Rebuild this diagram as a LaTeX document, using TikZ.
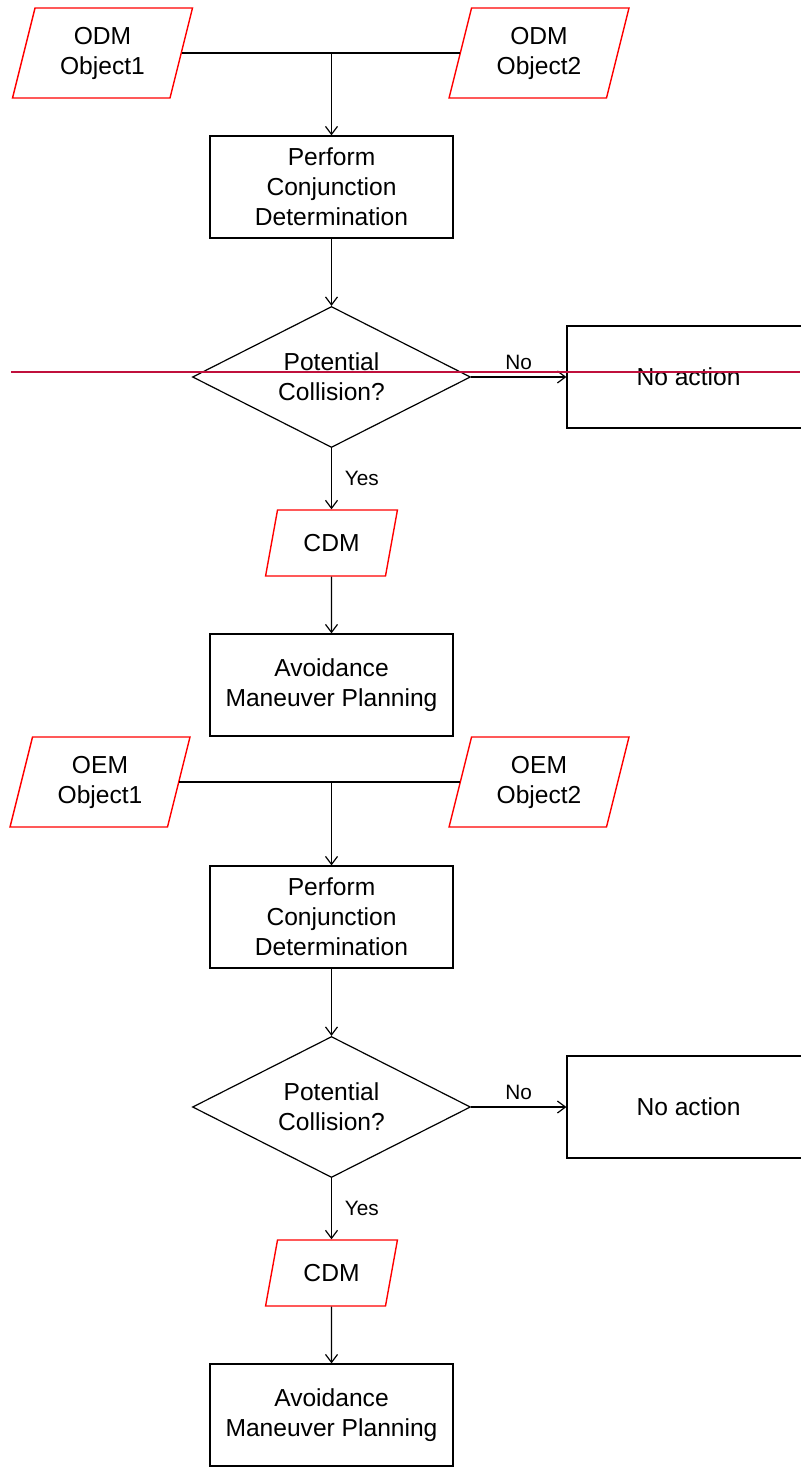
\documentclass[tikz,border=0pt]{standalone}
\usepackage{fontspec}
\setmainfont{Liberation Sans}
\usetikzlibrary{arrows.meta, shapes.geometric, positioning}

\definecolor{crossline}{RGB}{192,16,60}

\begin{document}
\begin{tikzpicture}[
        x=0.5pt, y=-0.5pt,
        node distance=1cm,
        main/.style={rectangle, draw, line width=0.6pt, minimum width=121.5pt, minimum height=51pt, align=center, font=\fontsize{12.3}{15}\selectfont},
        io/.style={trapezium, trapezium left angle=76, trapezium right angle=104, trapezium stretches=true, draw=red, line width=0.7pt, minimum width=90.5pt, minimum height=45pt, align=center, font=\fontsize{12.3}{15}\selectfont},
        small io/.style={io, minimum width=66pt, minimum height=33pt},
        decision/.style={diamond, draw, line width=0.6pt, aspect=2, minimum width=139pt, minimum height=70.5pt, align=center, font=\fontsize{12.3}{15}\selectfont},
        lbl/.style={font=\fontsize{10.4}{12}\selectfont},
        ->, >={Straight Barb[length=4pt, width=6pt]}, line width=0.6pt
    ]
    \useasboundingbox (0,0) rectangle (800,1471);

    % ODM run
    \node[main] (perf1) at (331.5,187) {Perform\\Conjunction\\Determination};
    \node[io] (odm1) at (102.5,53) {ODM\\Object1};
    \node[io] (odm2) at (539,53) {ODM\\Object2};
    \node[decision, node distance=95pt, below of=perf1] (dec1) {Potential\\Collision?};
    \node[main, node distance=178.5pt, right of=dec1] (none1) {No action};
    \node[small io, node distance=83pt, below of=dec1] (cdm1) {CDM};
    \node[main, node distance=71pt, below of=cdm1] (avoid1) {Avoidance\\Maneuver Planning};

    \coordinate (j1) at (perf1.north |- odm1.right side);
    \draw[-] (odm1.right side) -- (odm2.left side);
    \draw[->] (j1) -- (perf1);
    \draw[->] (perf1) -- (dec1);
    \draw[->] (dec1) -- node[lbl, above] {No} (none1);
    \draw[->] (dec1) -- node[lbl, right=3pt] {Yes} (cdm1);
    \draw[->] (cdm1) -- (avoid1);

    % line across the first run
    \draw[-, crossline, line width=0.75pt] (11,372) -- (800,372);

    % OEM run
    \node[main] (perf2) at (331.5,917) {Perform\\Conjunction\\Determination};
    \node[io] (oem1) at (100,782) {OEM\\Object1};
    \node[io] (oem2) at (539,782) {OEM\\Object2};
    \node[decision, node distance=95pt, below of=perf2] (dec2) {Potential\\Collision?};
    \node[main, node distance=178.5pt, right of=dec2] (none2) {No action};
    \node[small io, node distance=83pt, below of=dec2] (cdm2) {CDM};
    \node[main, node distance=71pt, below of=cdm2] (avoid2) {Avoidance\\Maneuver Planning};

    \coordinate (j2) at (perf2.north |- oem1.right side);
    \draw[-] (oem1.right side) -- (oem2.left side);
    \draw[->] (j2) -- (perf2);
    \draw[->] (perf2) -- (dec2);
    \draw[->] (dec2) -- node[lbl, above] {No} (none2);
    \draw[->] (dec2) -- node[lbl, right=3pt] {Yes} (cdm2);
    \draw[->] (cdm2) -- (avoid2);
\end{tikzpicture}
\end{document}
